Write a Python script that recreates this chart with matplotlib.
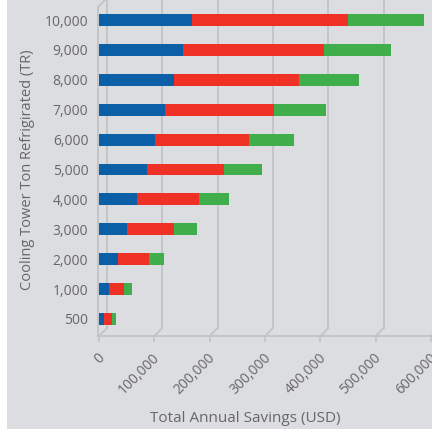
import numpy as np
import matplotlib
matplotlib.use('Agg')
import matplotlib.pyplot as plt
import matplotlib.transforms as mtransforms
from matplotlib.patches import Rectangle

# Cooling tower size categories (TR)
tons = ['500', '1,000', '2,000', '3,000', '4,000', '5,000',
        '6,000', '7,000', '8,000', '9,000', '10,000']

# Savings components (USD), stacked left to right
blue_vals = [9000, 18600, 34800, 51000, 69000, 86000, 101500, 118400, 135700, 152000, 168800]
red_vals = [14000, 27000, 55000, 85000, 112000, 139000, 169000, 198000, 225000, 255000, 282000]
green_vals = [8000, 14000, 28000, 41000, 54000, 70000, 82000, 93000, 109000, 121000, 136000]

x_ticks = [0, 100000, 200000, 300000, 400000, 500000, 600000]
x_ticklabels = ['0', '100,000', '200,000', '300,000', '400,000', '500,000', '600,000']

bg = '#dcdde0'
grid_c = '#c2c3c6'
text_c = '#676767'
plt.rcParams['font.family'] = ['Open Sans', 'DejaVu Sans']

W, H = 432, 429
fig = plt.figure(figsize=(W / 100, H / 100), dpi=100, facecolor=bg)
# thin white strip on the left edge
fig.patches.append(Rectangle((0, 0), 6.5 / W, 1, transform=fig.transFigure,
                             facecolor='white', edgecolor='none', zorder=-1))

ax_l, ax_r, ax_t, ax_b = 99, 431, 0, 336
ax = fig.add_axes([ax_l / W, (H - ax_b) / H, (ax_r - ax_l) / W, (ax_b - ax_t) / H])
ax.set_facecolor(bg)
for s in ax.spines.values():
    s.set_visible(False)

y = np.arange(len(tons))
blue = np.array(blue_vals)
red = np.array(red_vals)
green = np.array(green_vals)
ax.barh(y, blue, height=0.4, color='#0a5fa6', zorder=3)
ax.barh(y, red, left=blue, height=0.4, color='#ee3124', zorder=3)
ax.barh(y, green, left=blue + red, height=0.4, color='#40ae4a', zorder=3)

ax.set_xlim(0, 600000)
ax.set_ylim(-0.57, 10.67)

# pseudo 3D: back wall gridlines shifted up/right by the depth
d = 8
back_x = mtransforms.offset_copy(ax.get_xaxis_transform(), fig=fig, x=d, y=0, units='dots')
pix = mtransforms.IdentityTransform()
x0_pix, y0_pix = ax.transAxes.transform((0, 0))
x1_pix, y1_pix = ax.transAxes.transform((1, 1))
for v in x_ticks:
    ax.plot([v, v], [d / (ax_b - ax_t), 1], transform=back_x, color=grid_c, lw=1.3,
            zorder=1, clip_on=False)
    xv = ax.transData.transform((v, 0))[0]
    fig.add_artist(plt.Line2D([xv, xv + d], [y0_pix, y0_pix + d],
                              transform=pix, color=grid_c, lw=1.3))

# floor line and left wall
fig.add_artist(plt.Line2D([x0_pix - 1, x1_pix + 2], [y0_pix, y0_pix],
                          transform=pix, color=grid_c, lw=1.3))
fig.add_artist(plt.Line2D([x0_pix - 1, x0_pix - 1, x0_pix - 1 + d],
                          [y0_pix, y1_pix - 7, y1_pix + 1],
                          transform=pix, color=grid_c, lw=1.3))

ax.set_yticks(y)
ax.set_yticklabels(tons)
ax.tick_params(axis='y', length=0, pad=7.7, labelsize=10, labelcolor=text_c)

ax.set_xticks(x_ticks)
ax.set_xticklabels(x_ticklabels, rotation=45, ha='right', va='center', rotation_mode='anchor')
ax.tick_params(axis='x', length=4.3, width=1.2, color=grid_c, pad=9.7,
               labelsize=10, labelcolor=text_c)
shift = mtransforms.ScaledTranslation(3.5 / 100, 0, fig.dpi_scale_trans)
for lbl in ax.get_xticklabels():
    lbl.set_transform(lbl.get_transform() + shift)

fig.text(28 / W, 1 - 170 / H, 'Cooling Tower Ton Refrigirated (TR)', rotation=90,
         ha='center', va='center', fontsize=10.5, color=text_c)
fig.text(245 / W, 1 - 418 / H, 'Total Annual Savings (USD)',
         ha='center', va='center', fontsize=11, color=text_c)

fig.savefig('out.png', dpi=100, facecolor=bg)
